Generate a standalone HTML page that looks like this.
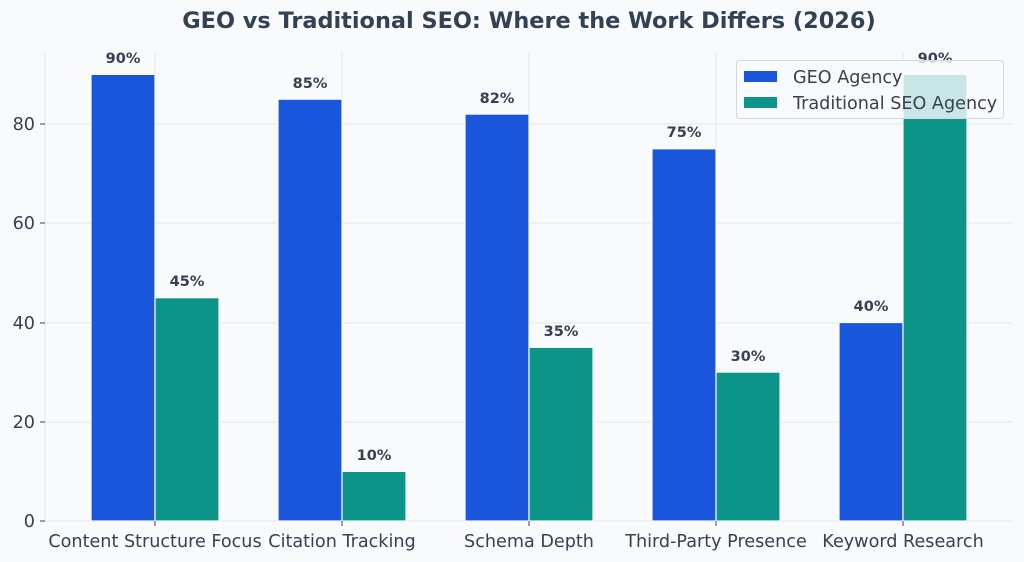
<!DOCTYPE html>
<html><head><meta charset="utf-8"><style>
html,body{margin:0;padding:0;background:#f8fafc;}
svg{display:block;font-family:"DejaVu Sans","Liberation Sans",sans-serif;}
</style></head><body>
<svg width="1024" height="562" viewBox="0 0 1024 562">
<rect width="1024" height="562" fill="#f8fafc"/>
<text x="529" y="28" text-anchor="middle" font-size="22.4" font-weight="bold" fill="#334155">GEO vs Traditional SEO: Where the Work Differs (2026)</text>
<g stroke="#e2e8f0" stroke-width="1">
<line x1="155" y1="52" x2="155" y2="521"/><line x1="342" y1="52" x2="342" y2="521"/><line x1="529" y1="52" x2="529" y2="521"/><line x1="716" y1="52" x2="716" y2="521"/><line x1="903" y1="52" x2="903" y2="521"/>
<line x1="45" y1="124" x2="1012" y2="124"/><line x1="45" y1="223" x2="1012" y2="223"/><line x1="45" y1="323" x2="1012" y2="323"/><line x1="45" y1="422" x2="1012" y2="422"/>
<line x1="45" y1="52" x2="45" y2="521"/><line x1="45" y1="521" x2="1012" y2="521"/>
</g>
<g stroke="#f8fafc" stroke-width="1.2">
<rect x="91" y="74.4" width="64" height="446.6" fill="#1a56db"/><rect x="155" y="297.7" width="64" height="223.3" fill="#0d9488"/>
<rect x="278" y="99.2" width="64" height="421.8" fill="#1a56db"/><rect x="342" y="471.4" width="64" height="49.6" fill="#0d9488"/>
<rect x="465" y="114.1" width="64" height="406.9" fill="#1a56db"/><rect x="529" y="347.3" width="64" height="173.7" fill="#0d9488"/>
<rect x="652" y="148.8" width="64" height="372.2" fill="#1a56db"/><rect x="716" y="372.1" width="64" height="148.9" fill="#0d9488"/>
<rect x="839" y="322.5" width="64" height="198.5" fill="#1a56db"/><rect x="903" y="74.4" width="64" height="446.6" fill="#0d9488"/>
</g>
<g font-size="14.5" font-weight="bold" fill="#374151" text-anchor="middle">
<text x="123" y="63">90%</text><text x="187" y="286">45%</text>
<text x="310" y="88">85%</text><text x="374" y="460">10%</text>
<text x="497" y="103">82%</text><text x="561" y="336">35%</text>
<text x="684" y="137">75%</text><text x="748" y="361">30%</text>
<text x="871" y="311">40%</text><text x="935" y="63">90%</text>
</g>
<g font-size="17.6" fill="#374151">
<g stroke="#374151"><line x1="40" y1="521" x2="45" y2="521"/><line x1="40" y1="422" x2="45" y2="422"/><line x1="40" y1="323" x2="45" y2="323"/><line x1="40" y1="223" x2="45" y2="223"/><line x1="40" y1="124" x2="45" y2="124"/>
<line x1="155" y1="521" x2="155" y2="526"/><line x1="342" y1="521" x2="342" y2="526"/><line x1="529" y1="521" x2="529" y2="526"/><line x1="716" y1="521" x2="716" y2="526"/><line x1="903" y1="521" x2="903" y2="526"/></g>
<g text-anchor="end"><text x="35" y="527">0</text><text x="35" y="428">20</text><text x="35" y="329">40</text><text x="35" y="229">60</text><text x="35" y="130">80</text></g>
<g text-anchor="middle"><text x="155" y="547">Content Structure Focus</text><text x="342" y="547">Citation Tracking</text><text x="529" y="547">Schema Depth</text><text x="716" y="547">Third-Party Presence</text><text x="903" y="547">Keyword Research</text></g>
</g>
<rect x="736.5" y="60.5" width="267" height="58" rx="3" fill="#f8fafc" fill-opacity="0.8" stroke="#d4d8de"/>
<rect x="744" y="71" width="33" height="11" fill="#1a56db"/>
<rect x="744" y="97" width="33" height="11" fill="#0d9488"/>
<text x="793" y="83" font-size="17.6" fill="#374151">GEO Agency</text>
<text x="793" y="109" font-size="17.6" fill="#374151">Traditional SEO Agency</text>
</svg>
</body></html>
